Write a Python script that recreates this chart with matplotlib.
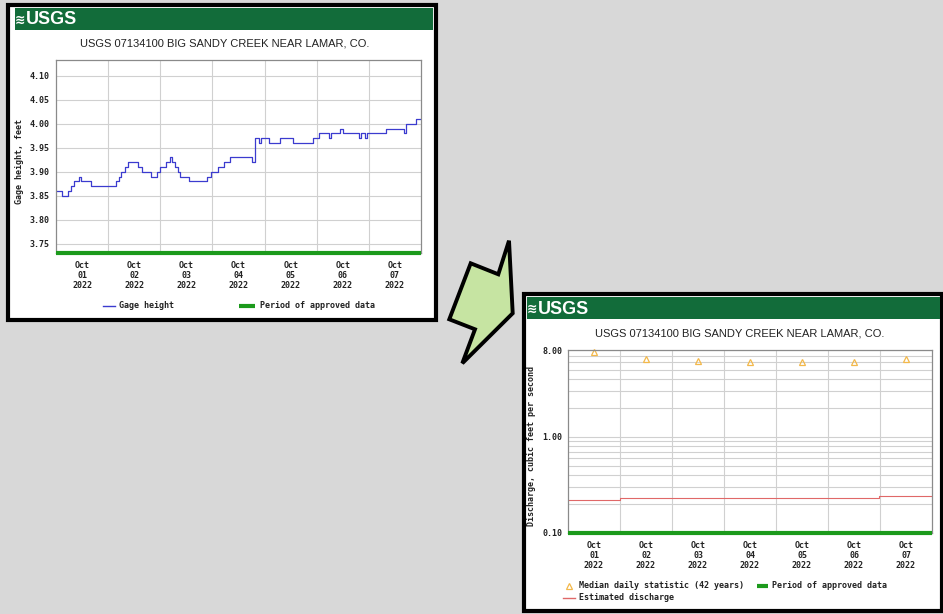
import matplotlib
matplotlib.use('Agg')
import matplotlib.pyplot as plt
import numpy as np
from matplotlib.patches import Rectangle, Polygon
from matplotlib.ticker import FixedLocator, LogLocator, NullFormatter

W, H = 943, 614

title = 'USGS 07134100 BIG SANDY CREEK NEAR LAMAR, CO.'
days = ['01', '02', '03', '04', '05', '06', '07']
day_labels = ['Oct\n%s\n2022' % d for d in days]

# gage height, hours since Oct 01 00:00
gage_hours = [0, 2.75, 5.7, 6.7, 8.3, 10.7, 11.3, 15.9, 27.8, 28.9, 30.1, 31.7, 33.2, 37.8, 39.8, 43.9,
              46.5, 47.7, 50.8, 52.6, 53.5, 54.6, 56.2, 57.2, 61.2, 69.5, 71.4, 74.5, 77.1, 79.9, 90.3, 91.5,
              93.6, 94.4, 97.9, 103.1, 108.9, 118.1, 120.9, 125.8, 126.4, 130.7, 132.2, 139.5, 140.3, 142.3, 143.1, 151.8,
              160.2, 161.0, 165.5, 168]
gage_ft = [3.86, 3.85, 3.86, 3.87, 3.88, 3.89, 3.88, 3.87, 3.88, 3.89, 3.90, 3.91, 3.92, 3.91, 3.90, 3.89,
           3.90, 3.91, 3.92, 3.93, 3.92, 3.91, 3.90, 3.89, 3.88, 3.89, 3.90, 3.91, 3.92, 3.93, 3.92, 3.97,
           3.96, 3.97, 3.96, 3.97, 3.96, 3.97, 3.98, 3.97, 3.98, 3.99, 3.98, 3.97, 3.98, 3.97, 3.98, 3.99,
           3.98, 4.00, 4.01, 4.01]
gage_ticks = [3.75, 3.80, 3.85, 3.90, 3.95, 4.00, 4.05, 4.10]

# estimated discharge (step), cfs
est_hours = [0, 24, 143.5, 168]
est_cfs = [0.22, 0.23, 0.24, 0.24]
# median daily statistic (42 years), one per day
median_cfs = [7.6, 6.4, 6.15, 6.0, 6.0, 6.0, 6.4]
q_ticks = [0.1, 1.0, 8.0]
q_labels = ['0.10', '1.00', '8.00']

approved_days = [0, 7]

GREEN_HDR = '#126c3a'
GREEN = '#1c9a1c'
BLUE = '#3b3bcf'
RED = '#e06868'
ORANGE = '#f3b84a'
GRID = '#d0d0d0'
FRAME = '#8a8a8a'
MONO = dict(family='DejaVu Sans Mono', fontweight='bold', fontsize=6, color='#222222')


def box(x0, y0, x1, y1):
    return [x0 / W, 1 - y1 / H, (x1 - x0) / W, (y1 - y0) / H]


fig = plt.figure(figsize=(W / 100, H / 100), dpi=100)
fig.patch.set_facecolor('#d8d8d8')
bg = fig.add_axes([0, 0, 1, 1])
bg.set_xlim(0, W)
bg.set_ylim(H, 0)
bg.axis('off')


def panel(outer, header, title_xy):
    x0, y0, x1, y1 = outer
    bg.add_patch(Rectangle((x0, y0), x1 - x0, y1 - y0, facecolor='white', edgecolor='black', lw=3))
    hx0, hy0, hx1, hy1 = header
    bg.add_patch(Rectangle((hx0, hy0), hx1 - hx0, hy1 - hy0, facecolor=GREEN_HDR, lw=0))
    cy = (hy0 + hy1) / 2
    bg.text(hx0, cy + 1, '\u224b', color='white', fontsize=9, fontweight='bold',
            family='DejaVu Sans', va='center', ha='left')
    bg.text(hx0 + 11, cy + 1, 'USGS', color='white', fontsize=13, fontweight='bold',
            family='Liberation Sans', va='center', ha='left')
    bg.text(title_xy[0], title_xy[1], title, fontsize=8, family='Liberation Sans',
            color='#222222', ha='center', va='center')


def style_axes(ax):
    ax.set_xlim(0, 7)
    ax.set_xticks([i + 0.5 for i in range(7)])
    ax.set_xticklabels(day_labels, linespacing=1.15, **MONO)
    ax.xaxis.set_minor_locator(FixedLocator(range(1, 7)))
    ax.grid(axis='x', which='minor', color=GRID, lw=0.8)
    ax.tick_params(which='both', length=0)
    ax.tick_params(axis='x', pad=5.5)
    ax.tick_params(axis='y', pad=4.3)
    for s in ax.spines.values():
        s.set_color(FRAME)
        s.set_linewidth(0.9)
    ax.set_axisbelow(True)


# ---- panel 1: gage height
panel((8, 5, 436, 320), (15, 8, 433, 30), (225, 43.5))
ax1 = fig.add_axes(box(56, 60, 421, 253))
style_axes(ax1)
ax1.step(np.array(gage_hours) / 24, gage_ft, where='post', color=BLUE, lw=0.9)
ax1.set_ylim(3.731, 4.133)
ax1.set_yticks(gage_ticks)
ax1.set_yticklabels(['%.2f' % v for v in gage_ticks], **MONO)
ax1.grid(axis='y', which='major', color=GRID, lw=0.8)
ax1.plot(approved_days, [3.731, 3.731], color=GREEN, lw=3, clip_on=False,
         solid_capstyle='butt', zorder=5)
bg.text(20, 161.5, 'Gage height, feet', rotation=90, ha='center', va='center', **MONO)

bg.plot([103, 115], [306, 306], color=BLUE, lw=1)
bg.text(119, 306, 'Gage height', ha='left', va='center', **MONO)
bg.plot([239, 255], [306, 306], color=GREEN, lw=3, solid_capstyle='butt')
bg.text(260, 306, 'Period of approved data', ha='left', va='center', **MONO)

# ---- arrow
bg.add_patch(Polygon([(509, 240.7), (512.7, 313.3), (462.3, 363.3), (475, 329.3),
                      (449.3, 319.3), (470.7, 263.3), (498.3, 274.3)],
                     closed=True, facecolor='#c6e4a2', edgecolor='black', lw=2.8, joinstyle='miter'))

# ---- panel 2: discharge
panel((523.5, 293.5, 942, 611), (527, 297, 940, 319), (740, 333))
ax2 = fig.add_axes(box(568, 350, 932, 533))
style_axes(ax2)
ax2.set_yscale('log')
ax2.set_ylim(0.1, 8)
ax2.set_yticks(q_ticks)
ax2.set_yticklabels(q_labels, **MONO)
ax2.yaxis.set_minor_locator(LogLocator(base=10, subs=range(2, 10)))
ax2.yaxis.set_minor_formatter(NullFormatter())
ax2.grid(axis='y', which='both', color=GRID, lw=0.8)
ax2.step(np.array(est_hours) / 24, est_cfs, where='post', color=RED, lw=0.8)
ax2.plot([i + 0.5 for i in range(7)], median_cfs, linestyle='none', marker='^',
         mfc='none', mec=ORANGE, ms=5, mew=0.9, clip_on=False)
ax2.plot(approved_days, [0.1, 0.1], color=GREEN, lw=3, clip_on=False,
         solid_capstyle='butt', zorder=5)
bg.text(532, 446, 'Discharge, cubic feet per second', rotation=90, ha='center', va='center', **MONO)

bg.plot([569], [585.7], linestyle='none', marker='^', mfc='none', mec=ORANGE, ms=5, mew=0.9)
bg.text(579, 585.7, 'Median daily statistic (42 years)', ha='left', va='center', **MONO)
bg.plot([757, 768], [585.7, 585.7], color=GREEN, lw=3, solid_capstyle='butt')
bg.text(772, 585.7, 'Period of approved data', ha='left', va='center', **MONO)
bg.plot([562.7, 575], [597.7, 597.7], color=RED, lw=1)
bg.text(579, 597.7, 'Estimated discharge', ha='left', va='center', **MONO)

fig.savefig('out.png', dpi=100, facecolor=fig.get_facecolor())
